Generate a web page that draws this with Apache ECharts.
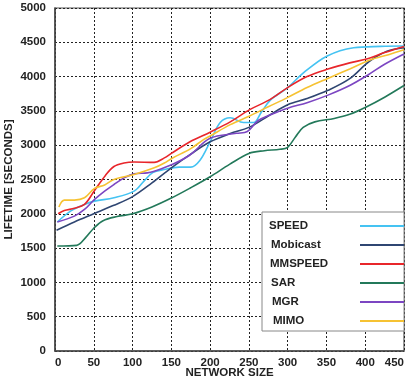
<!DOCTYPE html>
<html><head><meta charset="utf-8">
<script src="https://cdn.jsdelivr.net/npm/echarts@6/dist/echarts.min.js"></script>
<style>html,body{margin:0;padding:0;background:#fff;}#c{width:408px;height:381px;}</style>
</head><body><div id="c"></div>
<script>
const seriesNames = ['SPEED','Mobicast','MMSPEED','SAR','MGR','MIMO'];
const xTicks = [0,50,100,150,200,250,300,350,400,450];
const yTicks = [0,500,1000,1500,2000,2500,3000,3500,4000,4500,5000];

const speedData = [[3,1880],[20,2040],[38,2136],[51,2185],[76,2233],[102,2330],[115,2480],[126,2600],[141,2645],[160,2680],[175,2680],[187,2780],[200,3050],[213,3330],[226,3400],[243,3330],[256,3330],[266,3480],[278,3660],[300,3840],[321,4060],[351,4300],[385,4420],[420,4440],[450,4445]];
const mobicastData = [[2,1760],[25,1880],[50,2000],[75,2120],[100,2250],[125,2450],[150,2670],[175,2870],[200,3050],[226,3170],[250,3260],[277,3440],[300,3590],[325,3680],[352,3800],[380,3970],[405,4220],[428,4370],[450,4420]];
const mmspeedData = [[4,2000],[12,2047],[25,2080],[38,2136],[51,2340],[65,2560],[76,2690],[89,2740],[102,2755],[128,2750],[141,2815],[150,2880],[174,3050],[200,3190],[226,3340],[251,3518],[277,3664],[300,3840],[325,4000],[352,4110],[380,4200],[403,4260],[425,4350],[450,4440]];
const sarData = [[3,1530],[28,1540],[40,1660],[50,1790],[62,1900],[80,1960],[100,2000],[125,2100],[150,2230],[175,2380],[200,2540],[225,2720],[250,2880],[270,2920],[290,2940],[300,2970],[310,3120],[320,3260],[335,3340],[360,3390],[380,3450],[400,3550],[425,3700],[450,3870]];
const mgrData = [[3,1880],[25,1966],[38,2063],[51,2209],[64,2330],[76,2427],[89,2524],[102,2582],[119,2596],[128,2621],[151,2718],[174,2857],[200,3100],[234,3173],[248,3200],[262,3360],[277,3440],[300,3540],[325,3620],[352,3730],[380,3870],[403,4020],[425,4180],[450,4330]];
const mimoData = [[5,2100],[12,2200],[25,2200],[38,2233],[51,2370],[64,2420],[76,2500],[102,2573],[128,2670],[141,2740],[151,2810],[175,2950],[192,3085],[200,3134],[226,3300],[251,3426],[275,3560],[299,3690],[325,3840],[351,3970],[380,4110],[406,4241],[430,4320],[450,4390]];

const allData = [speedData, mobicastData, mmspeedData, sarData, mgrData, mimoData];
const colors = ['#45c3f2','#2f4672','#e8262b','#23795a','#7c46c2','#f6c232'];
const legendOffsets = {SPEED:0, Mobicast:2, MMSPEED:1, SAR:2, MGR:3, MIMO:4};
const FONT = '"Liberation Sans", Arial, sans-serif';

const chart = echarts.init(document.getElementById('c'), null, {renderer:'canvas'});
const rich = {};
seriesNames.forEach((n,i)=>{
  rich['r'+i] = {fontFamily:FONT, fontWeight:'bold', fontSize:11.5, color:'#222', lineHeight:14, width:86-legendOffsets[n], padding:[0,0,0,legendOffsets[n]], align:'left'};
});
chart.setOption({
  animation:false,
  backgroundColor:'#fff',
  grid:{left:55, right:4, top:8, bottom:30, show:true, borderColor:'#555', borderWidth:1.2, backgroundColor:'transparent', containLabel:false, outerBoundsMode:'none'},
  xAxis:{type:'value', min:xTicks[0], max:xTicks[xTicks.length-1], interval:50,
    name:'NETWORK SIZE', nameLocation:'middle', nameGap:16, nameMoveOverlap:false,
    nameTextStyle:{fontFamily:FONT, fontWeight:'bold', fontSize:11.5, color:'#222'},
    axisLine:{show:true, lineStyle:{color:'#444', width:1.5}},
    axisTick:{show:false},
    axisLabel:{fontFamily:FONT, fontWeight:'bold', fontSize:11.5, color:'#222', margin:6, formatter:(v)=>String(v), alignMinLabel:'left', alignMaxLabel:'right'},
    splitLine:{show:true, lineStyle:{color:'#222', width:1, type:[2,2]}}
  },
  yAxis:{type:'value', min:yTicks[0], max:yTicks[yTicks.length-1], interval:500,
    name:'LIFETIME [SECONDS]', nameLocation:'middle', nameGap:40, nameMoveOverlap:false,
    nameTextStyle:{fontFamily:FONT, fontWeight:'bold', fontSize:11.5, color:'#222'},
    axisLine:{show:true, lineStyle:{color:'#444', width:1.5}},
    axisTick:{show:false},
    axisLabel:{fontFamily:FONT, fontWeight:'bold', fontSize:11.5, color:'#222', margin:9, formatter:(v)=>String(v)},
    splitLine:{show:true, lineStyle:{color:'#222', width:1, type:[2,2]}}
  },
  legend:{orient:'vertical', left:262, top:212, align:'right',
    backgroundColor:'#fff', borderColor:'#888', borderWidth:1,
    padding:[8,0,4,7], itemGap:7, itemWidth:44, itemHeight:2, icon:'rect',
    data:seriesNames,
    formatter:(name)=>'{r'+seriesNames.indexOf(name)+'|'+name+'}',
    textStyle:{rich:rich}
  },
  series: seriesNames.map((n,i)=>({
    name:n, type:'line', data:allData[i], smooth:0.35, showSymbol:false, symbol:'none',
    lineStyle:{color:colors[i], width:1.6}, itemStyle:{color:colors[i]}, z:2+i
  }))
});
</script></body></html>
